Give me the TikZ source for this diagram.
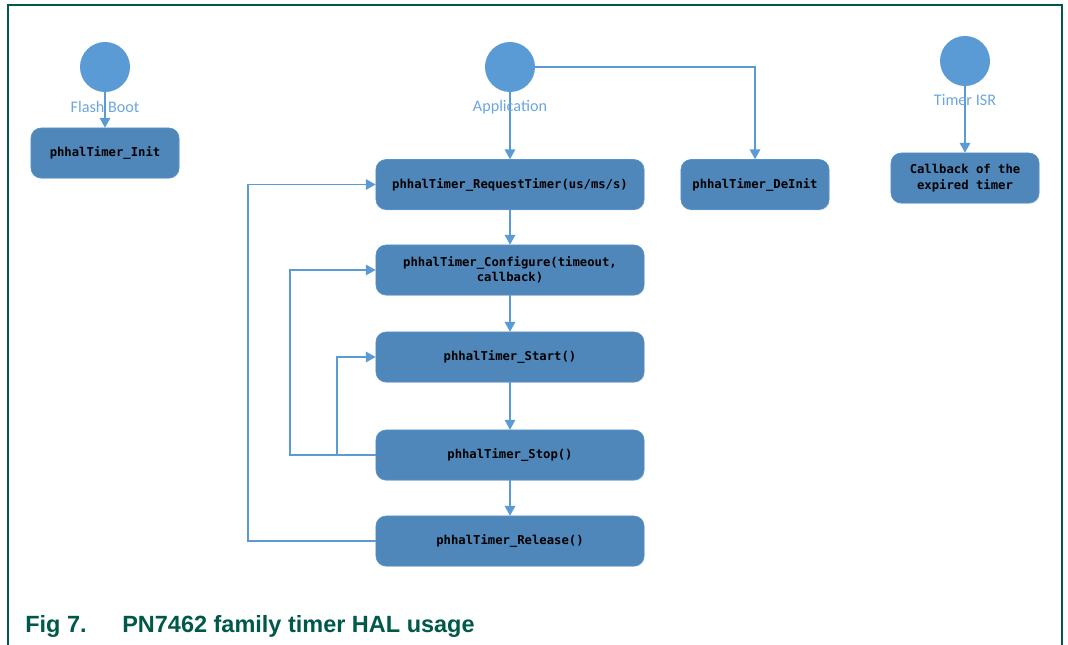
\documentclass[tikz,border=0pt]{standalone}
\usepackage{fontspec}
\usetikzlibrary{arrows.meta,shadows}
\setmainfont{Liberation Sans}
\newfontfamily\codefont{DejaVu Sans Mono}
\newfontfamily\labelfont{Carlito}
\definecolor{boxBlue}{RGB}{79,135,186}
\definecolor{lineBlue}{RGB}{91,155,213}
\definecolor{labelBlue}{RGB}{108,166,222}
\definecolor{nxpGreen}{RGB}{0,88,72}
\begin{document}
\begin{tikzpicture}[x=0.025cm, y=-0.025cm,
  call/.style={draw=lineBlue!60!boxBlue, line width=0.4pt, fill=boxBlue, rounded corners=0.25cm,
    minimum height=1.25cm, align=center, font=\codefont\bfseries\fontsize{8.7}{11}\selectfont,
    drop shadow={opacity=0.2, shadow xshift=0.5pt, shadow yshift=-0.7pt}},
  wide/.style={call, minimum width=6.7cm},
  narrow/.style={call, minimum width=3.7cm},
  actor/.style={circle, fill=lineBlue, minimum size=1.25cm, inner sep=0pt},
  actorLabel/.style={text=labelBlue, font=\labelfont\fontsize{11.5}{13}\selectfont},
  flow/.style={draw=lineBlue, line width=1.1pt, -{Triangle[length=7pt, width=7.5pt]}}]
\useasboundingbox (0,0) rectangle (1068,645);
\draw[nxpGreen, line width=1.2pt] (8,645) -- (8,5) -- (1062,5) -- (1062,645); % open frame
% start points
\node[actor] (flashBoot) at (105,67) {};
\node[actor] (app) at (510,67) {};
\node[actor] (timerIsr) at (965,61) {};
% calls
\node[narrow] (init) at (105,153) {phhalTimer\_Init};
\node[wide] (request) at (510,184.5) {phhalTimer\_RequestTimer(us/ms/s)};
\node[narrow] (deInit) at (755,184.5) {phhalTimer\_DeInit};
\node[narrow] (callback) at (965,178) {Callback of the\\expired timer};
\node[wide] (configure) at (510,270) {phhalTimer\_Configure(timeout,\\callback)};
\node[wide] (start) at (510,357) {phhalTimer\_Start()};
\node[wide] (stop) at (510,455) {phhalTimer\_Stop()};
\node[wide] (release) at (510,541) {phhalTimer\_Release()};
\coordinate (outerLoop) at (248,0);
\coordinate (midLoop) at (290,0);
\coordinate (innerLoop) at (337,0);
\draw[flow] (flashBoot.south) -- (init.north);
\draw[flow] (app.south) -- (request.north);
\draw[flow] (app.east) -| (deInit.north);
\draw[flow] (timerIsr.south) -- (callback.north);
\draw[flow] (request.south) -- (configure.north);
\draw[flow] (configure.south) -- (start.north);
\draw[flow] (start.south) -- (stop.north);
\draw[flow] (stop.south) -- (release.north);
\draw[flow] (release.west) -- (release.west -| outerLoop) |- (request.west);
\draw[flow] (stop.west) -- (stop.west -| midLoop) |- (configure.west);
\draw[flow] (stop.west -| innerLoop) |- (start.west);
% labels over the lines
\node[actorLabel] (flashLabel) at (105,107) {Flash Boot};
\node[actorLabel] (appLabel) at (510,107) {Application};
\node[actorLabel] (isrLabel) at (965,100) {Timer ISR};
\node[anchor=base west, text=nxpGreen, font=\bfseries\fontsize{16.7}{20}\selectfont, inner sep=0pt] (figNo) at (25,632) {Fig 7.};
\node[anchor=base west, text=nxpGreen, font=\bfseries\fontsize{16.7}{20}\selectfont, inner sep=0pt] (figTitle) at (122,632) {PN7462 family timer HAL usage};
\end{tikzpicture}
\end{document}
